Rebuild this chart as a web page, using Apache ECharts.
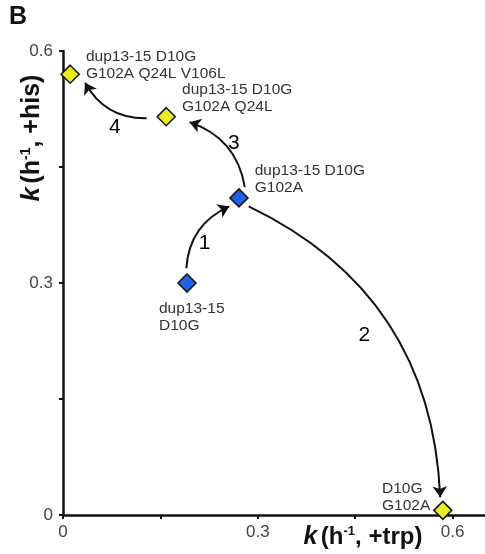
<!DOCTYPE html>
<html>
<head>
<meta charset="utf-8">
<script src="https://cdn.jsdelivr.net/npm/echarts@6/dist/echarts.min.js"></script>
<style>
  html, body { margin: 0; padding: 0; background: #fff; }
  #chart { width: 485px; height: 554px; }
</style>
</head>
<body>
<div id="chart"></div>
<script>
// genotypes: growth rate with trp (x) and with his (y)
const genotypes = [
  'dup13-15\nD10G',
  'dup13-15 D10G\nG102A',
  'dup13-15 D10G\nG102A Q24L',
  'dup13-15 D10G\nG102A Q24L V106L',
  'D10G\nG102A'
];
const kTrp = [0.191, 0.271, 0.159, 0.011, 0.585];
const kHis = [0.300, 0.410, 0.515, 0.570, 0.006];
const isBlue = [true, true, false, false, false];

// step arrows (start / end in data units)
const stepNames = ['1', '2', '3', '4'];
const stepFrom = [[0.190, 0.319], [0.286, 0.399], [0.280, 0.424], [0.129, 0.513]];
const stepTo = [[0.256, 0.399], [0.581, 0.023], [0.195, 0.508], [0.034, 0.559]];
const stepBend = [0.3, 0.3, -0.3, 0.3];
const stepLabelAt = [[0.218, 0.352], [0.464, 0.233], [0.263, 0.481], [0.080, 0.501]];

const xTicks = [0, 0.3, 0.6];
const yTicks = [0, 0.3, 0.6];

const FONT = '"Liberation Sans", Arial, sans-serif';
const BLUE = '#1f62e8';
const YELLOW = '#ecec1e';

// label placement tweaks per point
const labelPos = [
  { position: 'bottom', align: 'left', offset: [-28, 2] },
  { position: 'right', align: 'left', offset: [1, -19] },
  { position: 'right', align: 'left', offset: [1, -19] },
  { position: 'right', align: 'left', offset: [1, -9] },
  { position: 'left', align: 'left', offset: [-46, -13] }
];

const chart = echarts.init(document.getElementById('chart'));

const tickFmt = list => v => {
  const hit = list.find(t => Math.abs(t - v) < 1e-6);
  return hit === undefined ? '' : String(hit);
};

const titleRich = size => ({
  k: { fontSize: size + 1, fontWeight: 'bold', fontStyle: 'italic', fontFamily: FONT, fill: '#111' },
  b: { fontSize: size, fontWeight: 'bold', fontFamily: FONT, fill: '#111' },
  s: { fontSize: Math.round(size * 0.55), fontWeight: 'bold', fontFamily: FONT, fill: '#111', verticalAlign: 'top', padding: [0, 0, 10, 0] }
});

chart.setOption({
  animation: false,
  grid: { left: 63, right: 0, top: 51, bottom: 39 },
  xAxis: {
    type: 'value', min: 0, max: 0.65, interval: 0.15,
    splitLine: { show: false },
    axisLine: { onZero: false, lineStyle: { color: '#111', width: 2.5 } },
    axisTick: { length: 4, lineStyle: { color: '#111', width: 2 } },
    axisLabel: {
      formatter: tickFmt(xTicks), showMaxLabel: false,
      color: '#444', fontSize: 17, fontFamily: FONT, margin: 9
    }
  },
  yAxis: {
    type: 'value', min: 0, max: 0.6, interval: 0.15,
    splitLine: { show: false },
    axisLine: { onZero: false, lineStyle: { color: '#111', width: 2.5 } },
    axisTick: { length: 4, lineStyle: { color: '#111', width: 2 } },
    axisLabel: {
      formatter: tickFmt(yTicks),
      color: '#444', fontSize: 17, fontFamily: FONT, margin: 10
    }
  },
  graphic: [
    {
      type: 'text', left: 9, top: 5,
      style: { text: 'B', fontSize: 25, fontWeight: 'bold', fontFamily: FONT, fill: '#111' }
    },
    {
      type: 'text', x: 32, y: 138, rotation: Math.PI / 2,
      style: {
        text: '{k|k} {b|(h}{s|-1}{b|, +his)}',
        align: 'center', verticalAlign: 'middle',
        rich: titleRich(25)
      }
    },
    {
      type: 'text', x: 363, y: 537,
      style: {
        text: '{k|k} {b|(h}{s|-1}{b|, +trp)}',
        align: 'center', verticalAlign: 'middle',
        rich: titleRich(24)
      }
    }
  ],
  series: [
    {
      type: 'lines',
      coordinateSystem: 'cartesian2d',
      symbol: ['none', 'arrow'],
      symbolSize: 11,
      silent: true,
      z: 3,
      lineStyle: { color: '#111', width: 2, opacity: 1 },
      data: stepNames.map((n, i) => ({
        coords: [stepFrom[i], stepTo[i]],
        lineStyle: { curveness: stepBend[i] }
      }))
    },
    {
      type: 'scatter',
      symbol: 'circle',
      symbolSize: 1,
      silent: true,
      z: 4,
      itemStyle: { color: '#fff', opacity: 1 },
      label: {
        show: true, position: [0.5, 0.5], align: 'center', verticalAlign: 'middle',
        formatter: p => p.name,
        fontSize: 21, fontFamily: FONT, color: '#000'
      },
      data: stepNames.map((n, i) => ({ name: n, value: stepLabelAt[i] }))
    },
    {
      type: 'scatter',
      symbol: 'diamond',
      symbolSize: 18,
      z: 5,
      itemStyle: { borderColor: '#1a1a1a', borderWidth: 1.6, opacity: 1 },
      label: {
        show: true, formatter: p => p.name,
        fontSize: 15.5, lineHeight: 17, fontFamily: FONT, color: '#333'
      },
      data: genotypes.map((g, i) => ({
        name: g,
        value: [kTrp[i], kHis[i]],
        itemStyle: { color: isBlue[i] ? BLUE : YELLOW },
        label: labelPos[i]
      }))
    }
  ]
});
</script>
</body>
</html>
